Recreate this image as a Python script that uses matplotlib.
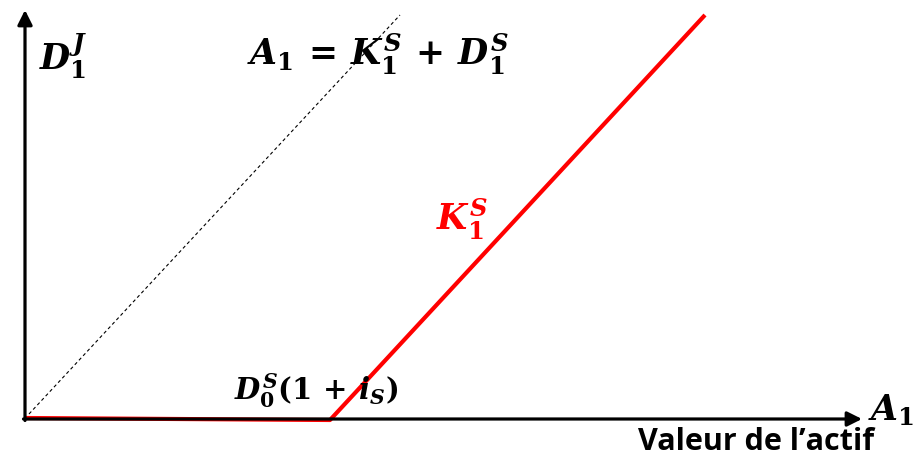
import matplotlib.pyplot as plt

plt.rcParams['mathtext.fontset'] = 'custom'
plt.rcParams['mathtext.it'] = 'DejaVu Serif:italic:bold'
plt.rcParams['mathtext.rm'] = 'DejaVu Serif:bold'
plt.rcParams['mathtext.bf'] = 'DejaVu Serif:bold'

# schematic coordinates (origin = intersection of axes)
payoff_x = [0, 305, 680]
payoff_y = [0, -2, 403]
diag_x = [4, 375]
diag_y = [4, 403]
x_axis_end = 837
y_axis_end = 408

fig = plt.figure(figsize=(9.21, 4.57), dpi=100)
ax = fig.add_axes([0, 0, 1, 1])
ax.set_xlim(-25, 896)
ax.set_ylim(-39, 418)
ax.axis('off')

# axes with arrows
ax.annotate('', xy=(x_axis_end, -1), xytext=(-1.5, -1),
            arrowprops=dict(arrowstyle='-|>', lw=2.3, color='black', mutation_scale=22,
                            shrinkA=0, shrinkB=0))
ax.annotate('', xy=(0, y_axis_end), xytext=(0, -2.5),
            arrowprops=dict(arrowstyle='-|>', lw=2.3, color='black', mutation_scale=22,
                            shrinkA=0, shrinkB=0))

ax.plot(diag_x, diag_y, color='black', lw=0.8, ls=(0, (3, 2.5)))
ax.plot(payoff_x, payoff_y, color='#ff0000', lw=3, solid_capstyle='butt')

ax.text(38, 362, r'$D_1^J$', fontsize=25, ha='center', va='center')
ax.text(353, 364, r'$A_1\,=\,K_1^S\,+\,D_1^S$', fontsize=25, ha='center', va='center')
ax.text(437, 199, r'$K_1^S$', fontsize=25, ha='center', va='center', color='#ff0000')
ax.text(291, 27, r'$D_0^S(1\,+\,i_S)$', fontsize=21, ha='center', va='center')
ax.text(866, 8, r'$A_1$', fontsize=25, ha='center', va='center')
ax.text(731, -24, 'Valeur de l\u2019actif', fontsize=22, fontweight='bold',
        family=['Open Sans', 'DejaVu Sans'], ha='center', va='center')

fig.savefig('out.png', dpi=100)
